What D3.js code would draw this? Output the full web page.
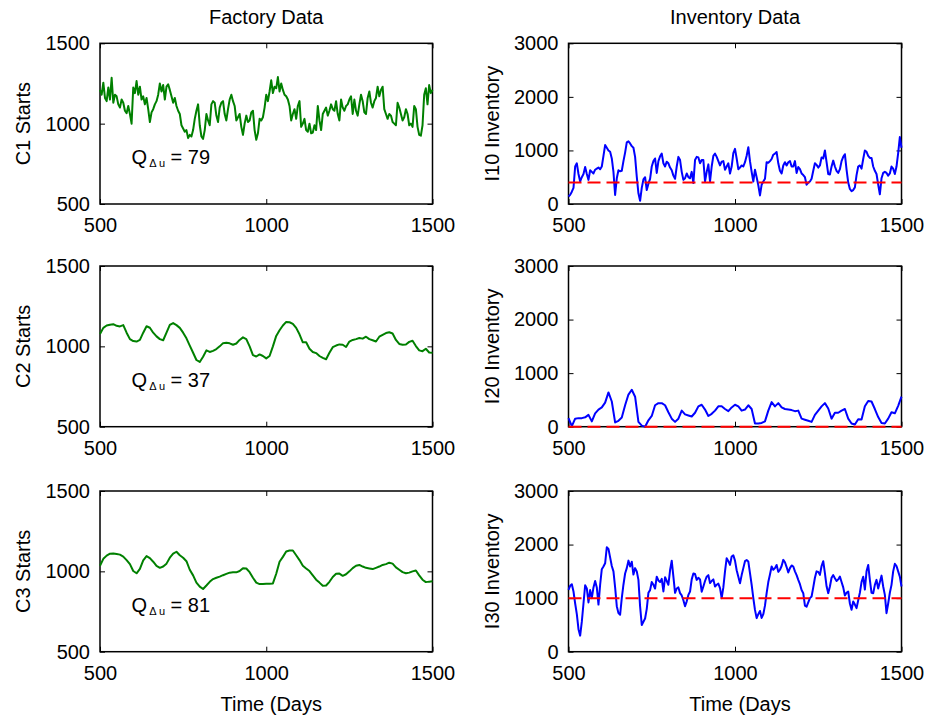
<!DOCTYPE html>
<html>
<head>
<meta charset="utf-8">
<script src="https://cdn.jsdelivr.net/npm/d3@7"></script>
<style>
  body { margin: 0; background: #fff; }
  svg { display: block; font-family: "Liberation Sans", Arial, Helvetica, sans-serif; }
</style>
</head>
<body>
<script>
// sampling grids (days)
const days5 = d3.range(500, 1501, 5);
const days10 = d3.range(500, 1501, 10);
const timeTicks = [500, 1000, 1500];
const startTicks = [500, 1000, 1500];
const invTicks = [0, 1000, 2000, 3000];

// factory starts
const c1Starts = [
  1210,1180,1255,1160,1140,1225,1150,1285,1130,1180,
  1170,1120,1100,1150,1130,1080,1065,1110,1060,1000,
  1225,1190,1265,1180,1230,1150,1170,1120,1160,1090,
  1010,1070,1090,1120,1140,1180,1250,1200,1240,1150,
  1230,1245,1210,1170,1130,1160,1110,1080,1060,990,
  970,950,960,910,930,920,960,1030,1080,1120,
  990,920,905,960,1060,1020,990,1120,1140,1130,
  1050,1010,1100,1130,1140,1060,1020,1090,1150,1180,
  1140,1110,1020,1040,1060,980,930,1000,1050,1010,
  1020,1070,1080,960,900,940,1030,1020,1040,1100,
  1180,1140,1200,1270,1190,1230,1220,1290,1200,1250,
  1210,1180,1170,1150,1110,1020,1060,1090,1030,1110,
  1140,980,1000,1030,960,950,1000,940,945,990,
  960,1110,1020,960,1060,1080,1100,1050,1080,1120,
  1090,1080,1140,1060,1020,1150,1100,1080,1110,1120,
  1150,1170,1060,1150,1080,1050,1120,1180,1140,1070,
  1060,1160,1200,1130,1100,1140,1160,1230,1170,1210,
  1230,1090,1060,1030,1060,1050,1010,1000,990,1130,
  1100,1060,1020,1040,1090,1060,990,1000,980,1110,
  1090,980,930,925,990,1180,1220,1120,1240,1190,
  1210
];
const c2Starts = [
  1077,1115,1130,1135,1138,1128,1124,1132,1085,1045,
  1033,1030,1040,1085,1125,1116,1085,1062,1045,1038,
  1085,1133,1145,1132,1115,1085,1050,1005,960,915,
  903,935,975,965,972,983,1000,1020,1022,1019,
  1010,1018,1040,1056,1045,1000,945,937,950,940,
  925,940,1000,1065,1100,1130,1152,1150,1140,1115,
  1075,1025,1025,985,965,958,940,928,920,960,
  995,1005,1012,1010,996,1030,1040,1045,1052,1048,
  1060,1045,1038,1030,1060,1072,1083,1088,1080,1040,
  1015,1010,1012,1028,1035,1002,975,970,985,962,
  960
];
const c3Starts = [
  1035,1078,1098,1110,1111,1108,1104,1092,1070,1045,
  1002,988,1015,1068,1095,1082,1060,1034,1022,1030,
  1048,1085,1110,1122,1100,1085,1063,1010,975,930,
  905,890,912,935,952,960,967,976,984,992,
  994,994,1002,1020,1018,995,960,930,921,921,
  923,923,925,985,1060,1090,1124,1130,1130,1100,
  1070,1035,1018,1002,975,948,930,910,912,935,
  965,985,986,972,982,1000,1020,1035,1040,1030,
  1022,1018,1014,1022,1030,1040,1045,1054,1048,1025,
  1010,995,988,992,1000,1005,975,948,933,936,
  938
];

// inventory levels
const i10Inv = [
  140,170,230,300,700,760,560,420,500,560,
  690,560,450,630,600,570,640,660,680,650,
  700,900,1100,1050,1000,975,850,600,170,480,
  630,610,620,800,960,1150,1170,1130,1080,1050,
  880,510,200,60,300,460,500,260,380,470,
  700,800,850,580,800,890,940,760,700,790,
  760,680,630,530,470,700,880,820,600,450,
  480,570,500,480,600,390,820,880,870,760,
  820,820,420,600,740,420,700,900,940,880,
  800,720,790,800,640,700,760,570,700,950,
  1030,850,650,680,720,700,780,900,1060,800,
  600,420,640,500,350,160,360,420,470,780,
  770,800,840,920,940,970,760,620,570,720,
  780,720,780,800,700,700,800,580,690,650,
  570,540,500,360,400,420,470,620,760,730,
  680,720,870,850,1000,780,560,550,700,810,
  700,620,580,650,800,880,930,640,400,280,
  240,260,310,540,700,720,660,840,1000,975,
  900,860,860,700,620,560,360,180,480,580,
  600,580,530,570,700,660,560,700,950,1250,
  1050
];
const i20Inv = [
  160,10,150,160,160,175,220,100,250,320,
  360,450,640,470,80,110,170,400,600,690,
  560,90,20,0,120,200,400,440,440,400,
  270,150,90,150,300,230,210,190,260,380,
  410,320,200,240,300,380,380,330,290,360,
  410,380,300,320,400,330,60,60,70,100,
  300,460,380,440,360,330,320,310,290,300,
  150,130,110,90,220,300,380,440,340,150,
  260,260,300,330,150,60,40,140,135,380,
  480,470,330,180,70,60,150,270,250,390,
  560
];
const i30Inv = [
  1155,1230,1260,1124,900,700,420,300,560,900,
  1240,1180,920,1150,1000,1200,1320,1200,880,1250,
  1540,1590,1650,1950,1920,1760,1600,1500,1200,850,
  720,690,1000,1250,1460,1560,1700,1590,1680,1440,
  1560,1500,1340,845,500,560,620,800,1100,1150,
  1300,1250,1180,1400,1330,1300,1360,1124,1390,1320,
  1250,1520,1700,1400,1100,1180,1200,1093,1050,960,
  850,940,1060,1124,1350,1460,1450,1341,1380,1350,
  1120,1217,1320,1400,1430,1280,1320,1350,1217,1250,
  1270,1186,1000,1200,1500,1745,1690,1620,1776,1800,
  1700,1520,1400,1279,1430,1560,1690,1710,1683,1466,
  1250,1000,780,627,700,760,630,700,860,1093,
  1300,1440,1590,1530,1560,1620,1490,1530,1600,1714,
  1670,1580,1480,1560,1610,1590,1500,1430,1341,1260,
  1150,1093,860,840,920,1000,1030,1200,1380,1500,
  1490,1434,1600,1690,1466,1220,1093,1217,1380,1430,
  1370,1320,1350,1403,1300,1200,1050,1100,1124,900,
  782,938,880,814,960,1100,1300,1400,1160,1500,
  1620,1341,1100,1090,1248,1341,1180,1300,1420,1217,
  1060,720,900,1100,1248,1500,1640,1600,1500,1400,
  1217
];

const startLabels = ["C1 Starts", "C2 Starts", "C3 Starts"];
const invLabels = ["I10 Inventory", "I20 Inventory", "I30 Inventory"];
const qValues = [79, 37, 81];
const targetLevels = [400, 0, 1000];

const width = 926;
const height = 716;
const cols = [{ x: 100, w: 332.5 }, { x: 568.5, w: 333 }];
const rowTops = [43.3, 266, 491];
const panelH = 160.7;
const fontSize = 20;

const svg = d3.select("body").append("svg")
  .attr("width", width)
  .attr("height", height);

function styleAxis(g) {
  g.select(".domain").remove();
  g.attr("font-family", null).attr("font-size", fontSize);
  g.selectAll(".tick line").attr("stroke", "#000").attr("stroke-width", 1);
}

function drawPanel(col, row, cfg) {
  const c = cols[col];
  const g = svg.append("g").attr("transform", `translate(${c.x},${rowTops[row]})`);

  const x = d3.scaleLinear().domain([500, 1500]).range([0, c.w]);
  const y = d3.scaleLinear().domain(cfg.yDomain).range([panelH, 0]);

  g.append("g")
    .attr("transform", `translate(0,${panelH})`)
    .call(d3.axisBottom(x).tickValues(timeTicks).tickFormat(d3.format("d"))
      .tickSizeInner(-5).tickSizeOuter(0).tickPadding(14))
    .call(styleAxis);
  g.append("g")
    .call(d3.axisLeft(y).tickValues(cfg.yTicks).tickFormat(d3.format("d"))
      .tickSizeInner(-5).tickSizeOuter(0).tickPadding(10))
    .call(styleAxis);
  g.append("g")
    .call(d3.axisTop(x).tickValues(timeTicks).tickSizeInner(-5).tickSizeOuter(0).tickFormat(""))
    .call(styleAxis);
  g.append("g")
    .attr("transform", `translate(${c.w},0)`)
    .call(d3.axisRight(y).tickValues(cfg.yTicks).tickSizeInner(-5).tickSizeOuter(0).tickFormat(""))
    .call(styleAxis);

  // box
  g.append("rect")
    .attr("width", c.w)
    .attr("height", panelH)
    .attr("fill", "none")
    .attr("stroke", "#000")
    .attr("stroke-width", 1.5);

  const line = d3.line()
    .x((d, i) => x(cfg.days[i]))
    .y(d => y(d));

  g.append("path")
    .datum(cfg.values)
    .attr("d", line)
    .attr("fill", "none")
    .attr("stroke", cfg.color)
    .attr("stroke-width", 2)
    .attr("stroke-linejoin", "round");

  if (cfg.target !== undefined) {
    g.append("path")
      .datum([500, 1500])
      .attr("d", d3.line().x(d => x(d)).y(() => y(cfg.target)))
      .attr("fill", "none")
      .attr("stroke", "#ff0000")
      .attr("stroke-width", 2)
      .attr("stroke-dasharray", "13,6");
  }

  if (cfg.q !== undefined) {
    const t = g.append("text")
      .attr("x", x(595))
      .attr("y", y(750))
      .attr("font-size", 20);
    t.append("tspan").text("Q");
    t.append("tspan").attr("font-size", 11).attr("dy", 3).attr("dx", 2).text("\u0394 u");
    t.append("tspan").attr("dy", -3).text(" = " + cfg.q);
  }

  // y label
  g.append("text")
    .attr("transform", `translate(-70,${panelH / 2}) rotate(-90)`)
    .attr("text-anchor", "middle")
    .attr("font-size", fontSize)
    .text(cfg.label);

  if (row === 0) {
    g.append("text")
      .attr("x", c.w / 2)
      .attr("y", 24 - rowTops[0])
      .attr("text-anchor", "middle")
      .attr("font-size", fontSize)
      .text(cfg.title);
  }
  if (row === 2) {
    g.append("text")
      .attr("x", c.w / 2 + 5)
      .attr("y", 711 - rowTops[2])
      .attr("text-anchor", "middle")
      .attr("font-size", fontSize)
      .text("Time (Days");
  }
}

const factory = [c1Starts, c2Starts, c3Starts];
const factoryDays = [days5, days10, days10];
const inventory = [i10Inv, i20Inv, i30Inv];
const inventoryDays = [days5, days10, days5];

for (let r = 0; r < 3; r++) {
  drawPanel(0, r, {
    yDomain: [500, 1500], yTicks: startTicks,
    days: factoryDays[r], values: factory[r], color: "#008000",
    label: startLabels[r], q: qValues[r], title: "Factory Data"
  });
  drawPanel(1, r, {
    yDomain: [0, 3000], yTicks: invTicks,
    days: inventoryDays[r], values: inventory[r], color: "#0000ff",
    label: invLabels[r], target: targetLevels[r], title: "Inventory Data"
  });
}
</script>
</body>
</html>
